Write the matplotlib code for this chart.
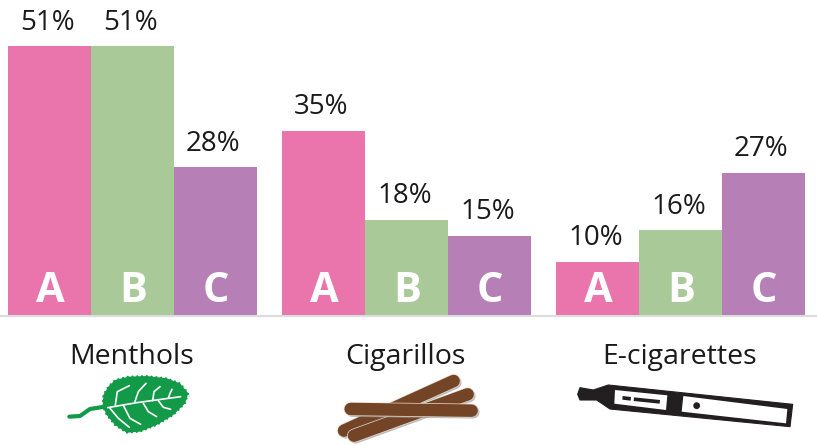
import numpy as np
import matplotlib
matplotlib.use('Agg')
import matplotlib.pyplot as plt
from matplotlib.patches import Polygon, Circle

categories = ['Menthols', 'Cigarillos', 'E-cigarettes']
letters = ['A', 'B', 'C']
values_a = [51, 35, 10]
values_b = [51, 18, 16]
values_c = [28, 15, 27]
colors = ['#E975AC', '#A9CA98', '#B67FB5']

plt.rcParams['font.family'] = ['Open Sans', 'DejaVu Sans']

W, H = 817, 445
base_px = 314.5
px_per_pct = 5.255
group_left = np.array([8, 282, 556])
bar_w = 83

fig = plt.figure(figsize=(W / 100, H / 100), dpi=100)
ax = fig.add_axes([0, 0, 1, 1])
ax.set_xlim(0, W)
ax.set_ylim(-(H - base_px) / px_per_pct, base_px / px_per_pct)
ax.axis('off')

for i, vals in enumerate([values_a, values_b, values_c]):
    xs = group_left + bar_w * i + bar_w / 2
    ax.bar(xs, vals, width=bar_w, color=colors[i], linewidth=0, zorder=2)
    for x, v in zip(xs, vals):
        ax.annotate(f'{v}%', (x, v), xytext=(-1.5, 7), textcoords='offset points',
                    ha='center', va='bottom', fontsize=20, color='#1a1a1a')
        ax.annotate(letters[i], (x, 0), xytext=(0.5, 2), textcoords='offset points',
                    ha='center', va='bottom', fontsize=30, fontweight='bold',
                    color='white', zorder=3)

ax.axhline(-0.25, color='#dcdcdc', lw=1.6, zorder=1)

# overlay in pixel coordinates for the category captions and icons
ov = fig.add_axes([0, 0, 1, 1], facecolor='none')
ov.set_xlim(0, W)
ov.set_ylim(H, 0)
ov.axis('off')

for g, name in zip(group_left, categories):
    ov.text(g + 123.5, 357, name, ha='center', va='center', fontsize=20.5, color='#1a1a1a')


def zoomed(pts, x0, y0):
    # convert points measured on a 3x grid to figure pixels
    pts = np.array(pts, dtype=float)
    return pts[:, 0] / 3 + x0, pts[:, 1] / 3 + y0


# leaf
leaf_green = '#129A48'
lx, ly = zoomed([(188, 228), (190, 195), (205, 170), (225, 150), (265, 140), (320, 138),
                 (380, 145), (420, 160), (445, 190), (435, 220), (400, 255), (350, 285),
                 (300, 305), (260, 308), (225, 285), (200, 255)], 40, 330)
ov.add_patch(Polygon(np.c_[lx, ly], closed=True, fc=leaf_green, ec=leaf_green, lw=1.5,
                     ls=(0, (0.1, 2.2)), capstyle='round', joinstyle='round'))
sx, sy = zoomed([(88, 260), (120, 258), (150, 237), (195, 230)], 40, 330)
ov.plot(sx, sy, color=leaf_green, lw=3.0, solid_capstyle='round')
veins = [
    [(203, 233), (290, 218), (422, 200)],
    [(226, 225), (232, 185), (268, 167)],
    [(285, 214), (295, 185), (318, 160)],
    [(338, 212), (342, 185), (360, 170)],
    [(385, 205), (390, 190), (396, 178)],
    [(210, 235), (235, 265), (268, 292)],
    [(250, 226), (270, 265), (302, 283)],
    [(310, 220), (325, 245), (350, 260)],
    [(355, 212), (370, 232), (392, 238)],
]
for v in veins:
    vx, vy = zoomed(v, 40, 330)
    ov.plot(vx, vy, color='white', lw=1.2, solid_capstyle='round')

# cigarillos
brown = '#734526'
sticks = [
    [(72, 287), (401, 138)],
    [(102, 302), (443, 178)],
    [(92, 222), (455, 227)],
]
for s in sticks:
    cx, cy = zoomed(s, 320, 335)
    ov.plot(cx + 1.5, cy + 1.5, color='#9a9a9a', lw=9.2, solid_capstyle='round', alpha=0.7)
    ov.plot(cx, cy, color='#e8dcd2', lw=10.0, solid_capstyle='round')
    ov.plot(cx, cy, color=brown, lw=9.0, solid_capstyle='round')

# e-cigarette
ink = '#231F20'
bx, by = zoomed([(53, 178), (60, 158), (100, 165), (145, 150), (698, 208), (690, 275),
                 (150, 222), (110, 195), (60, 195)], 560, 335)
ov.add_patch(Polygon(np.c_[bx, by], closed=True, fc=ink, ec=ink, lw=0.8, joinstyle='round'))
for win in ([(165, 165), (322, 181), (318, 225), (163, 206)],
            [(370, 183), (682, 222), (678, 265), (365, 230)]):
    wx, wy = zoomed(win, 560, 335)
    ov.add_patch(Polygon(np.c_[wx, wy], closed=True, fc='white', ec='none'))
for dash in ([(188, 183), (213, 186), (212, 197), (187, 194)],
             [(222, 187), (300, 195), (299, 206), (221, 198)]):
    dx, dy = zoomed(dash, 560, 335)
    ov.add_patch(Polygon(np.c_[dx, dy], closed=True, fc=ink, ec='none'))
ov.add_patch(Circle((560 + 410 / 3, 335 + 212 / 3), 3.4, fc=ink, ec='none'))

fig.savefig('out.png', dpi=100, facecolor='white')
